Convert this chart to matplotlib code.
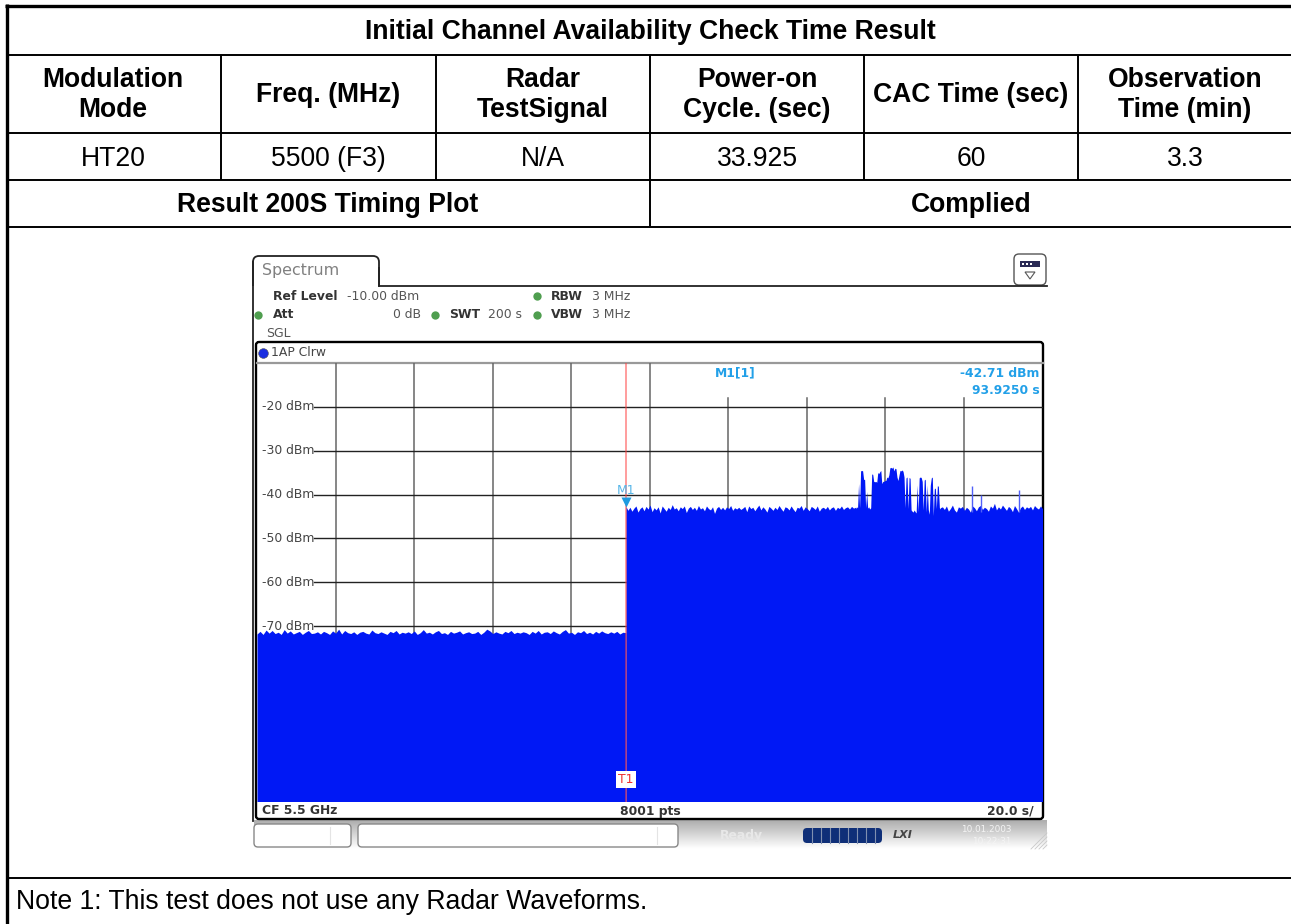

# Initial channel availability check - table page with analyzer screenshot
import matplotlib
matplotlib.use("Agg")
import matplotlib.pyplot as plt
from matplotlib.patches import FancyBboxPatch, Rectangle, Polygon
import numpy as np

W, H = 1291, 924

title = "Initial Channel Availability Check Time Result"
headers = ["Modulation\nMode", "Freq. (MHz)", "Radar\nTestSignal",
           "Power-on\nCycle. (sec)", "CAC Time (sec)", "Observation\nTime (min)"]
row_values = ["HT20", "5500 (F3)", "N/A", "33.925", "60", "3.3"]
result_labels = ["Result 200S Timing Plot", "Complied"]
note = "Note 1: This test does not use any Radar Waveforms."

# trace: time in s / top of the sweep in dBm
marker_t = 93.925
marker_level = -42.71
sweep_time = 200.0
# before the marker, one reading about every 3 px
low_level = [-71.8, -71.2, -71.9, -70.9, -71.6, -71.0, -71.7, -71.4, -71.9, -70.8,
             -71.6, -71.1, -71.8, -71.5, -71.2, -71.9, -71.4, -71.0, -71.7, -71.6,
             -71.3, -71.8, -71.2, -71.5, -71.9, -71.1, -71.6, -70.7, -71.8, -71.0,
             -71.5, -71.7, -71.3, -71.9, -71.4, -71.2, -71.6, -71.8, -70.9, -71.5,
             -71.7, -71.3, -71.6, -71.9, -71.2, -71.5, -71.0, -71.8, -71.4, -71.6,
             -71.3, -71.7, -71.1, -71.9, -71.5, -70.8, -71.6, -71.4, -71.8, -71.3,
             -71.0, -71.7, -71.5, -71.9, -71.2, -71.6, -71.4, -71.1, -71.8, -71.5,
             -71.3, -71.7, -71.6, -71.2, -71.9, -71.4, -70.7, -71.1, -71.7, -71.3,
             -71.6, -71.8, -71.2, -71.5, -71.0, -71.7, -71.4, -71.6, -71.3, -71.5,
             -71.9, -71.2, -71.6, -71.0, -71.8, -71.4, -71.3, -71.7, -71.1, -71.5,
             -71.8, -71.2, -70.8, -71.6, -71.4, -71.9, -71.3, -71.5, -71.0, -71.7,
             -71.4, -71.8, -71.2, -71.6, -71.1, -71.5, -71.7, -71.3, -71.6, -71.2,
             -71.8, -71.4, -71.5]
# marker up to the burst, one reading about every 2 px
quiet_level = [-42.7, -43.6, -42.9, -43.8, -43.1, -42.6, -44.0, -43.2, -42.8, -43.7, -42.7, -43.3,
               -42.4, -43.9, -43.0, -43.5, -42.8, -44.2, -42.6, -43.2, -43.8, -42.9, -43.4,
               -42.3, -43.3, -43.0, -43.7, -42.8, -43.2, -42.6, -44.1, -43.1, -42.7, -43.4,
               -42.9, -43.6, -42.5, -43.3, -43.0, -43.7, -42.6, -43.2, -43.5, -42.8, -44.3,
               -43.1, -42.7, -43.4, -42.9, -43.5, -42.8, -43.2, -42.5, -43.6, -43.0, -43.3,
               -42.9, -43.4, -43.1, -42.7, -43.9, -42.6, -43.2, -42.9, -43.7, -43.0, -42.4,
               -43.5, -42.8, -43.3, -44.0, -42.7, -43.1, -43.6, -42.9, -43.4, -42.5, -43.2,
               -43.8, -42.8, -43.0, -43.5, -42.6, -43.3, -43.9, -42.9, -43.1, -42.5, -43.6,
               -42.8, -43.2, -43.7, -42.7, -43.0, -43.4, -42.6, -43.8, -43.1, -42.9, -43.3,
               -42.7, -43.5, -43.0, -42.8, -43.6, -42.9, -43.2, -42.6, -43.4, -43.0, -42.8,
               -43.3, -42.7, -43.1, -42.9]
# burst, one reading per px from 856 to 940
burst_level = [-43.2, -42.8, -43.0, -37.5, -43.0, -34.6, -34.5, -34.6, -36.5, -36.6,
               -43.0, -39.3, -43.1, -42.8, -43.3, -43.0, -35.3, -35.4, -37.0, -37.1,
               -37.0, -37.2, -35.0, -35.2, -34.8, -34.5, -37.5, -37.0, -37.0, -36.8,
               -36.8, -36.0, -36.2, -35.5, -33.9, -33.8, -34.0, -33.7, -34.6, -34.0,
               -34.1, -36.0, -36.8, -35.6, -34.5, -34.6, -34.4, -34.7, -36.0, -43.0,
               -36.2, -36.0, -43.2, -36.1, -36.3, -43.5, -43.8, -44.0, -43.5, -43.9,
               -44.2, -37.8, -43.9, -36.2, -36.0, -36.1, -37.0, -43.5, -36.7, -36.5,
               -44.0, -37.8, -43.4, -44.5, -37.9, -36.2, -36.0, -44.8, -38.7, -38.5,
               -43.2, -38.0, -38.1, -43.0, -43.3]
# after the burst to the end of the sweep, one reading about every 2 px
tail_level = [-43.0, -42.8, -43.4, -42.6, -43.8, -43.2, -42.4, -43.5, -44.0, -42.8,
              -43.1, -42.7, -43.6, -42.9, -43.3, -44.0, -42.6, -43.0, -43.7, -42.8,
              -42.5, -43.4, -42.9, -43.2, -43.8, -42.6, -43.1, -42.0, -43.5, -42.8,
              -43.3, -42.4, -43.0, -43.6, -42.7, -43.1, -43.9, -42.5, -43.2, -44.0,
              -43.0, -42.6, -43.4, -42.8, -43.1, -42.7, -43.5, -42.5, -43.0, -43.3,
              -42.6, -43.2]
spike_times = [182.0, 184.4, 193.9]
spike_levels = [-38.1, -40.0, -38.9]
burst_start, burst_end = 152.4, 174.0

low_times = np.linspace(0, marker_t, len(low_level))
quiet_times = np.linspace(marker_t, burst_start, len(quiet_level))
burst_times = np.linspace(burst_start, burst_end, len(burst_level))
tail_times = np.linspace(burst_end, sweep_time, len(tail_level))
high_times = np.concatenate([quiet_times, burst_times, tail_times])
high_level = np.concatenate([quiet_level, burst_level, tail_level])

fig = plt.figure(figsize=(W / 100, H / 100), dpi=100)
plt.rcParams['font.family'] = ['Liberation Sans', 'DejaVu Sans']

# page axes in image pixels
page = fig.add_axes([0, 0, 1, 1])
page.axis('off')

col_x = [221, 436, 650, 864, 1078]
col_centers = [113, 328, 543, 757, 971, 1185]
row_y = [55, 132.5, 180, 226.7, 877.7]
black = "#000000"
page.plot([6.5, 6.5], [4, H], color=black, lw=2.4, solid_capstyle='butt')
page.plot([5, W], [5.5, 5.5], color=black, lw=2.4, solid_capstyle='butt')
for y in row_y:
    page.plot([6, W], [y, y], color=black, lw=1.4, solid_capstyle='butt')
for x in col_x:
    page.plot([x, x], [55, 180], color=black, lw=1.4, solid_capstyle='butt')
page.plot([650, 650], [180, 226], color=black, lw=1.4, solid_capstyle='butt')

fs = 19.1
page.text(650, 32, title, ha='center', va='center', fontsize=fs, fontweight='bold')
for cx, h in zip(col_centers, headers):
    page.text(cx, 95, h, ha='center', va='center', fontsize=fs, fontweight='bold', linespacing=1.2)
for cx, v in zip(col_centers, row_values):
    page.text(cx, 158.5, v, ha='center', va='center', fontsize=fs)
page.text(328, 205.5, result_labels[0], ha='center', va='center', fontsize=fs, fontweight='bold')
page.text(971, 205.5, result_labels[1], ha='center', va='center', fontsize=fs, fontweight='bold')
page.text(16, 902, note, ha='left', va='center', fontsize=19.2)

# screenshot chrome
mono = ['DejaVu Sans']
ts = 8.9
dark = '#333333'
grey = '#555555'
# status bar gradient first so everything else sits on top
grad = np.linspace(0.68, 1, 30).reshape(-1, 1)
page.imshow(grad, extent=(254, 1047, 849, 820), cmap='gray', vmin=0, vmax=1, aspect='auto', zorder=1)
page.set_xlim(0, W)
page.set_ylim(H, 0)

page.add_patch(FancyBboxPatch((253, 256), 126, 40, boxstyle="round,pad=0,rounding_size=6",
                              fc='white', ec='#222222', lw=1.3, zorder=2))
page.add_patch(Rectangle((250, 286), 797, 14, fc='white', ec='none', zorder=2))
page.plot([379, 1047], [285.5, 285.5], color='#222222', lw=1.3, zorder=3)
page.plot([253, 253], [262, 821], color='#222222', lw=1.3, zorder=3)
page.plot([379, 379], [268, 286], color='#222222', lw=1.3, zorder=3)
page.text(262, 271, "Spectrum", fontsize=11.4, color='#808080', va='center', family=mono)
page.text(273, 296, "Ref Level", fontsize=ts, fontweight='bold', color=dark, va='center', family=mono)
page.text(347, 296, "-10.00 dBm", fontsize=ts, color=grey, va='center', family=mono)
page.text(273, 314.5, "Att", fontsize=ts, fontweight='bold', color=dark, va='center', family=mono)
page.text(421, 314.5, "0 dB", fontsize=ts, color=grey, va='center', ha='right', family=mono)
page.text(449, 314.5, "SWT", fontsize=ts, fontweight='bold', color=dark, va='center', family=mono)
page.text(488, 314.5, "200 s", fontsize=ts, color=grey, va='center', family=mono)
page.text(551, 296, "RBW", fontsize=ts, fontweight='bold', color=dark, va='center', family=mono)
page.text(592, 296, "3 MHz", fontsize=ts, color=grey, va='center', family=mono)
page.text(551, 314.5, "VBW", fontsize=ts, fontweight='bold', color=dark, va='center', family=mono)
page.text(592, 314.5, "3 MHz", fontsize=ts, color=grey, va='center', family=mono)
page.text(266, 333.5, "SGL", fontsize=ts, color=grey, va='center', family=mono)
for lx, ly in [(537, 296), (258, 315), (435, 315), (537, 315)]:
    page.plot([lx], [ly], marker='o', ms=6, color='#4f9e4f', mec='none', zorder=4)

# menu button top right
page.add_patch(FancyBboxPatch((1014, 254), 32, 31, boxstyle="round,pad=0,rounding_size=5",
                              fc='white', ec='#555555', lw=1.0, zorder=2))
page.add_patch(Rectangle((1020, 261), 20, 6, fc='#2a2a55', ec='none', zorder=3))
for bx in [1022, 1026, 1030]:
    page.add_patch(Rectangle((bx, 263), 2.4, 2.4, fc='white', ec='none', zorder=4))
page.add_patch(Polygon([[1025, 272], [1035, 272], [1030, 279]], fc='white', ec='#555555', lw=0.8, zorder=3))

# frame around the diagram
page.add_patch(FancyBboxPatch((256, 342), 787, 477, boxstyle="round,pad=0,rounding_size=3",
                              fc='white', ec='black', lw=1.7, zorder=2))
page.plot([257, 1043], [362.5, 362.5], color='#999999', lw=1.6, zorder=3)
page.plot([263], [353], marker='o', ms=7, color='#1a2ee0', mec='#555555', mew=0.4, zorder=4)
page.text(271, 352.5, "1AP Clrw", fontsize=ts, color='#444444', va='center', family=mono, zorder=4)
page.text(262, 811, "CF 5.5 GHz", fontsize=ts, fontweight='bold', color=dark, va='center', family=mono, zorder=4)
page.text(650, 811, "8001 pts", fontsize=ts, fontweight='bold', color=dark, va='center', ha='center', family=mono, zorder=4)
page.text(1034, 811, "20.0 s/", fontsize=ts, fontweight='bold', color=dark, va='center', ha='right', family=mono, zorder=4)

# bottom status bar
page.add_patch(FancyBboxPatch((254, 824), 97, 23, boxstyle="round,pad=0,rounding_size=4",
                              fc='white', ec='#888888', lw=1, zorder=2))
page.add_patch(FancyBboxPatch((358, 824), 320, 23, boxstyle="round,pad=0,rounding_size=4",
                              fc='white', ec='#888888', lw=1, zorder=2))
page.plot([330, 330], [827, 844], color='#e4e4e4', lw=0.8, zorder=3)
page.plot([657, 657], [827, 844], color='#e4e4e4', lw=0.8, zorder=3)
page.text(741, 835, "Ready", fontsize=ts, fontweight='bold', color='#e8e8e8', ha='center', va='center', family=mono, zorder=4)
page.add_patch(FancyBboxPatch((803, 828), 79, 15, boxstyle="round,pad=0,rounding_size=4",
                              fc='#0f2f78', ec='none', zorder=3))
for sx in range(812, 880, 9):
    page.plot([sx, sx], [828, 843], color='#8090b0', lw=0.8, zorder=4)
page.text(903, 835, "LXI", fontsize=8, fontweight='bold', fontstyle='italic', color='#444444', ha='center', va='center', family=mono, zorder=4)
page.text(986, 830, "10.01.2003", fontsize=6.4, color='#f4f4f4', ha='center', va='center', family=mono, zorder=4)
page.text(992, 841, "10:22:31", fontsize=6.4, color='#f4f4f4', ha='center', va='center', family=mono, zorder=4)
for off in [0, 4, 8, 12, 16]:
    page.plot([1047 - off, 1047], [849, 849 - off], color='#c8c8c8', lw=0.6, zorder=3)

# spectrum trace axes, same scales as the analyzer: 20 s/div, 10 dB/div
ax = fig.add_axes([257 / W, 1 - 801.5 / H, (1042.5 - 257) / W, (801.5 - 363) / H], zorder=5)
ax.set_xlim(0, sweep_time)
ax.set_ylim(-110, -10)
ax.patch.set_alpha(0)
for s in ax.spines.values():
    s.set_visible(False)
ax.set_xticks([])
ax.set_yticks([])
# right hand time lines start below the marker readout
for t in np.arange(20, 200, 20):
    top = -18 if t > 100 else -10
    ax.plot([t, t], [-110, top], color='#666666', lw=1.1, zorder=1)
levels = [-20, -30, -40, -50, -60, -70]
for lev in levels:
    ax.plot([14.4, sweep_time], [lev, lev], color='#222222', lw=1.0, zorder=1)
    ax.text(1.3, lev, "%d dBm" % lev, fontsize=ts, color='#444444', va='center', family=mono, zorder=6)

blue = '#0018f5'
ax.fill_between(low_times, -110, low_level, color=blue, lw=0, zorder=3)
ax.fill_between(high_times, -110, high_level, color=blue, lw=0, zorder=3)
ax.vlines(spike_times, -44, spike_levels, color='#5060f8', lw=1.0, zorder=3)
ax.axvline(marker_t, color='#ff4040', alpha=0.6, lw=1.2, zorder=4)
ax.plot([marker_t], [marker_level + 1.0], marker='v', ms=7, color='#1e9be0', mec='none', zorder=5)
ax.text(marker_t, -39.0, "M1", fontsize=ts, color='#55b5e8', ha='center', va='center', family=mono, zorder=5)
readout = '#22a0e8'
ax.text(116.5, -12.3, "M1[1]", fontsize=ts, fontweight='bold', color=readout, va='center', family=mono, zorder=6)
ax.text(199.2, -12.3, "-42.71 dBm", fontsize=ts, fontweight='bold', color=readout, va='center', ha='right', family=mono, zorder=6)
ax.text(199.2, -16.2, "93.9250 s", fontsize=ts, fontweight='bold', color=readout, va='center', ha='right', family=mono, zorder=6)
ax.text(marker_t, -105, "T1", fontsize=ts, color='#f03030', ha='center', va='center', family=mono, zorder=6,
        bbox=dict(fc='white', ec='none', pad=1.5))

fig.savefig("out.png", dpi=100)
